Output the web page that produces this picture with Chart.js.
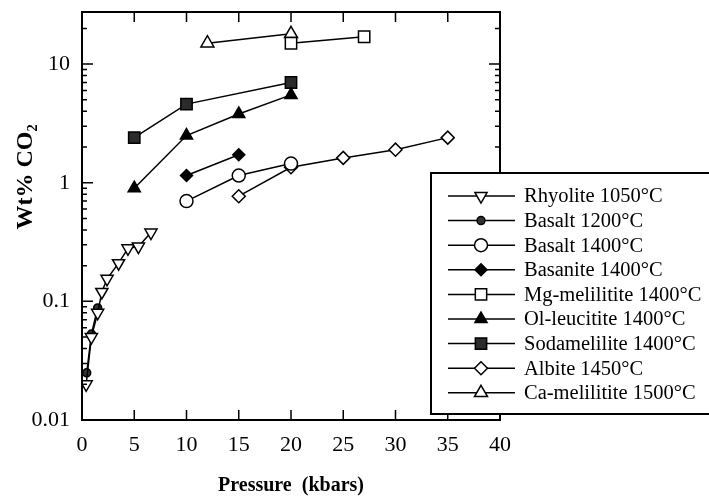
<!DOCTYPE html>
<html>
<head>
<meta charset="utf-8">
<script src="https://cdn.jsdelivr.net/npm/chart.js@4.4.1/dist/chart.umd.min.js"></script>
<style>
  html, body { margin: 0; padding: 0; background: #fff; }
</style>
</head>
<body>
<canvas id="chart" width="709" height="502"></canvas>
<script>
/*
 DATA
*/
const pressureTicks = [0, 5, 10, 15, 20, 25, 30, 35, 40];
const co2TickLabels = [0.01, 0.1, 1, 10];

const rhyoliteP = [0.4, 0.9, 1.5, 1.9, 2.4, 3.5, 4.4, 5.4, 6.6];
const rhyoliteCO2 = [0.02, 0.05, 0.08, 0.12, 0.155, 0.21, 0.28, 0.29, 0.38];

const basalt1200P = [0.45, 0.9, 1.5];
const basalt1200CO2 = [0.025, 0.053, 0.088];

const basalt1400P = [10, 15, 20];
const basalt1400CO2 = [0.7, 1.15, 1.45];

const basaniteP = [10, 15];
const basaniteCO2 = [1.15, 1.72];

const mgMelilititeP = [20, 27];
const mgMelilititeCO2 = [15, 17];

const olLeucititeP = [5, 10, 15, 20];
const olLeucititeCO2 = [0.9, 2.5, 3.8, 5.5];

const sodameliliteP = [5, 10, 20];
const sodameliliteCO2 = [2.4, 4.6, 7.0];

const albiteP = [15, 20, 25, 30, 35];
const albiteCO2 = [0.77, 1.35, 1.62, 1.9, 2.4];

const caMelilititeP = [12, 20];
const caMelilititeCO2 = [15, 18];

const serif = "'Liberation Serif', 'Times New Roman', serif";

/*
 DATASETS
*/
function series(label, xs, ys, style) {
  return {
    label,
    data: xs.map((x, i) => ({ x, y: ys[i] })),
    showLine: true,
    borderColor: "#000",
    borderWidth: 1.5,
    pointBorderColor: "#000",
    pointBorderWidth: 1.5,
    pointStyle: style.shape,
    pointRadius: style.radius,
    pointRotation: style.rotation || 0,
    pointBackgroundColor: style.fill
  };
}

const datasets = [
  series("Rhyolite 1050°C", rhyoliteP, rhyoliteCO2, { shape: "triangle", radius: 7, rotation: 180, fill: "#fff" }),
  series("Basalt 1200°C", basalt1200P, basalt1200CO2, { shape: "circle", radius: 4, fill: "#333" }),
  series("Basalt 1400°C", basalt1400P, basalt1400CO2, { shape: "circle", radius: 6.5, fill: "#fff" }),
  series("Basanite 1400°C", basaniteP, basaniteCO2, { shape: "rectRot", radius: 6, fill: "#000" }),
  series("Mg-melilitite 1400°C", mgMelilititeP, mgMelilititeCO2, { shape: "rect", radius: 8, fill: "#fff" }),
  series("Ol-leucitite 1400°C", olLeucititeP, olLeucititeCO2, { shape: "triangle", radius: 7, fill: "#000" }),
  series("Sodamelilite 1400°C", sodameliliteP, sodameliliteCO2, { shape: "rect", radius: 8, fill: "#2b2b2b" }),
  series("Albite 1450°C", albiteP, albiteCO2, { shape: "rectRot", radius: 6.5, fill: "#fff" }),
  series("Ca-melilitite 1500°C", caMelilititeP, caMelilititeCO2, { shape: "triangle", radius: 7.5, fill: "#fff" })
];

/*
 FRAME, INWARD TICKS AND LEGEND BOX
*/
const frameAndLegend = {
  id: "frameAndLegend",
  afterDraw(chart) {
    const ctx = chart.ctx;
    const a = chart.chartArea;
    const xs = chart.scales.x;
    const ys = chart.scales.y;

    ctx.save();
    ctx.strokeStyle = "#000";
    ctx.lineWidth = 2;
    ctx.strokeRect(a.left, a.top, a.right - a.left, a.bottom - a.top);

    ctx.lineWidth = 1.5;
    ctx.beginPath();
    pressureTicks.forEach(v => {
      if (v === 0 || v === 40) return;
      const px = xs.getPixelForValue(v);
      ctx.moveTo(px, a.bottom); ctx.lineTo(px, a.bottom - 10);
      ctx.moveTo(px, a.top); ctx.lineTo(px, a.top + 10);
    });
    ys.ticks.forEach(t => {
      const py = ys.getPixelForValue(t.value);
      const len = co2TickLabels.includes(t.value) ? 11 : 5;
      ctx.moveTo(a.left, py); ctx.lineTo(a.left + len, py);
      ctx.moveTo(a.right, py); ctx.lineTo(a.right - len, py);
    });
    ctx.stroke();

    // legend
    const bx = 431, by = 173, bw = 300, bh = 241;
    ctx.fillStyle = "#fff";
    ctx.fillRect(bx, by, bw, bh);
    ctx.lineWidth = 2;
    ctx.strokeRect(bx, by, bw, bh);

    ctx.font = "20.5px " + serif;
    ctx.textBaseline = "middle";
    ctx.textAlign = "left";
    chart.data.datasets.forEach((ds, i) => {
      const ly = 196 + i * 24.6;
      ctx.strokeStyle = "#000";
      ctx.lineWidth = 1.5;
      ctx.beginPath();
      ctx.moveTo(448, ly);
      ctx.lineTo(515, ly);
      ctx.stroke();
      ctx.fillStyle = ds.pointBackgroundColor;
      Chart.helpers.drawPoint(ctx, {
        pointStyle: ds.pointStyle,
        radius: ds.pointRadius,
        rotation: ds.pointRotation,
        borderWidth: ds.pointBorderWidth
      }, 481, ly);
      ctx.fillStyle = "#000";
      ctx.fillText(ds.label, 524, ly + 1);
    });
    ctx.restore();
  }
};

/*
 CHART
*/
const yMax = 27.5;

new Chart(document.getElementById("chart").getContext("2d"), {
  type: "scatter",
  data: { datasets },
  options: {
    responsive: false,
    animation: false,
    layout: { padding: { left: 0, top: 12, right: 209, bottom: 0 } },
    plugins: {
      legend: { display: false },
      tooltip: { enabled: false }
    },
    scales: {
      x: {
        type: "linear",
        min: 0,
        max: 40,
        afterFit(scale) {
          scale.height = 82;
          scale.paddingLeft = 0;
          scale.paddingRight = 0;
        },
        afterBuildTicks(scale) { scale.ticks = pressureTicks.map(v => ({ value: v })); },
        grid: { display: false, drawTicks: false },
        border: { display: false },
        ticks: {
          padding: 12,
          maxRotation: 0,
          autoSkip: false,
          color: "#000",
          font: { family: serif, size: 22 }
        },
        title: {
          display: true,
          text: "Pressure  (kbars)",
          color: "#000",
          font: { family: serif, size: 20, weight: "bold" },
          padding: { top: 0, bottom: 4 }
        }
      },
      y: {
        type: "logarithmic",
        min: 0.01,
        max: yMax,
        afterFit(scale) {
          scale.width = 82;
          scale.paddingTop = 0;
          scale.paddingBottom = 0;
        },
        afterBuildTicks(scale) {
          const list = [];
          co2TickLabels.forEach(d => {
            for (let m = 1; m <= 9; m++) {
              const v = +(d * m).toPrecision(3);
              if (v <= yMax) list.push({ value: v, major: m === 1 });
            }
          });
          scale.ticks = list;
        },
        grid: { display: false, drawTicks: false },
        border: { display: false },
        ticks: {
          padding: 12,
          autoSkip: false,
          color: "#000",
          font: { family: serif, size: 22 },
          callback: v => co2TickLabels.includes(v) ? String(v) : ""
        },
        title: {
          display: true,
          text: " ".repeat(13) + "Wt% CO₂",
          color: "#000",
          font: { family: serif, size: 24, weight: "bold" },
          padding: { top: 11, bottom: 0 }
        }
      }
    }
  },
  plugins: [frameAndLegend]
});
</script>
</body>
</html>
